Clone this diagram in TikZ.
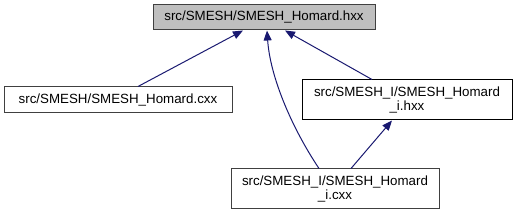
\documentclass[tikz,border=0pt]{standalone}
\usepackage{fontspec}
\setmainfont{Liberation Sans}
\usetikzlibrary{arrows.meta,calc}
\definecolor{edgeblue}{HTML}{191970}
\definecolor{boxgrey}{HTML}{BFBFBF}
\definecolor{bordergrey}{HTML}{404040}
\begin{document}
\begin{tikzpicture}[x=0.75pt,y=-0.75pt,
  filebox/.style={draw=bordergrey,line width=0.75pt,fill=white,inner sep=0pt,
    align=center,font=\fontsize{10pt}{10pt}\selectfont},
  edge/.style={draw=edgeblue,line width=0.75pt,
    -{Triangle[length=7.5pt,width=6pt,fill=edgeblue]}}]
\useasboundingbox (0,0) rectangle (515,216);
\node[filebox,fill=boxgrey,minimum width=166.5pt,minimum height=18.75pt] (top) at (264,17.5) {src/SMESH/SMESH\_Homard.hxx};
\node[filebox,minimum width=171pt,minimum height=19.5pt] (cxx) at (118,100) {src/SMESH/SMESH\_Homard.cxx};
\node[filebox,draw=black,minimum width=157.5pt,minimum height=30pt] (ihxx) at (407,100) {src/SMESH\_I/SMESH\_Homard\\\_i.hxx};
\node[filebox,minimum width=156pt,minimum height=30pt] (icxx) at (335,189) {src/SMESH\_I/SMESH\_Homard\\\_i.cxx};
\draw[edge] ($(cxx.north)+(20,0)$) -- ($(top.south)+(-21,0)$);
\draw[edge] ($(ihxx.north)+(-35,0)$) -- ($(top.south)+(21,0)$);
\draw[edge] ($(icxx.north)+(-16,0)$) .. controls (290,125) and (270,75) .. ($(top.south)+(3,0)$);
\draw[edge] ($(icxx.north)+(16,0)$) -- ($(ihxx.south)+(-15,0)$);
\end{tikzpicture}
\end{document}
